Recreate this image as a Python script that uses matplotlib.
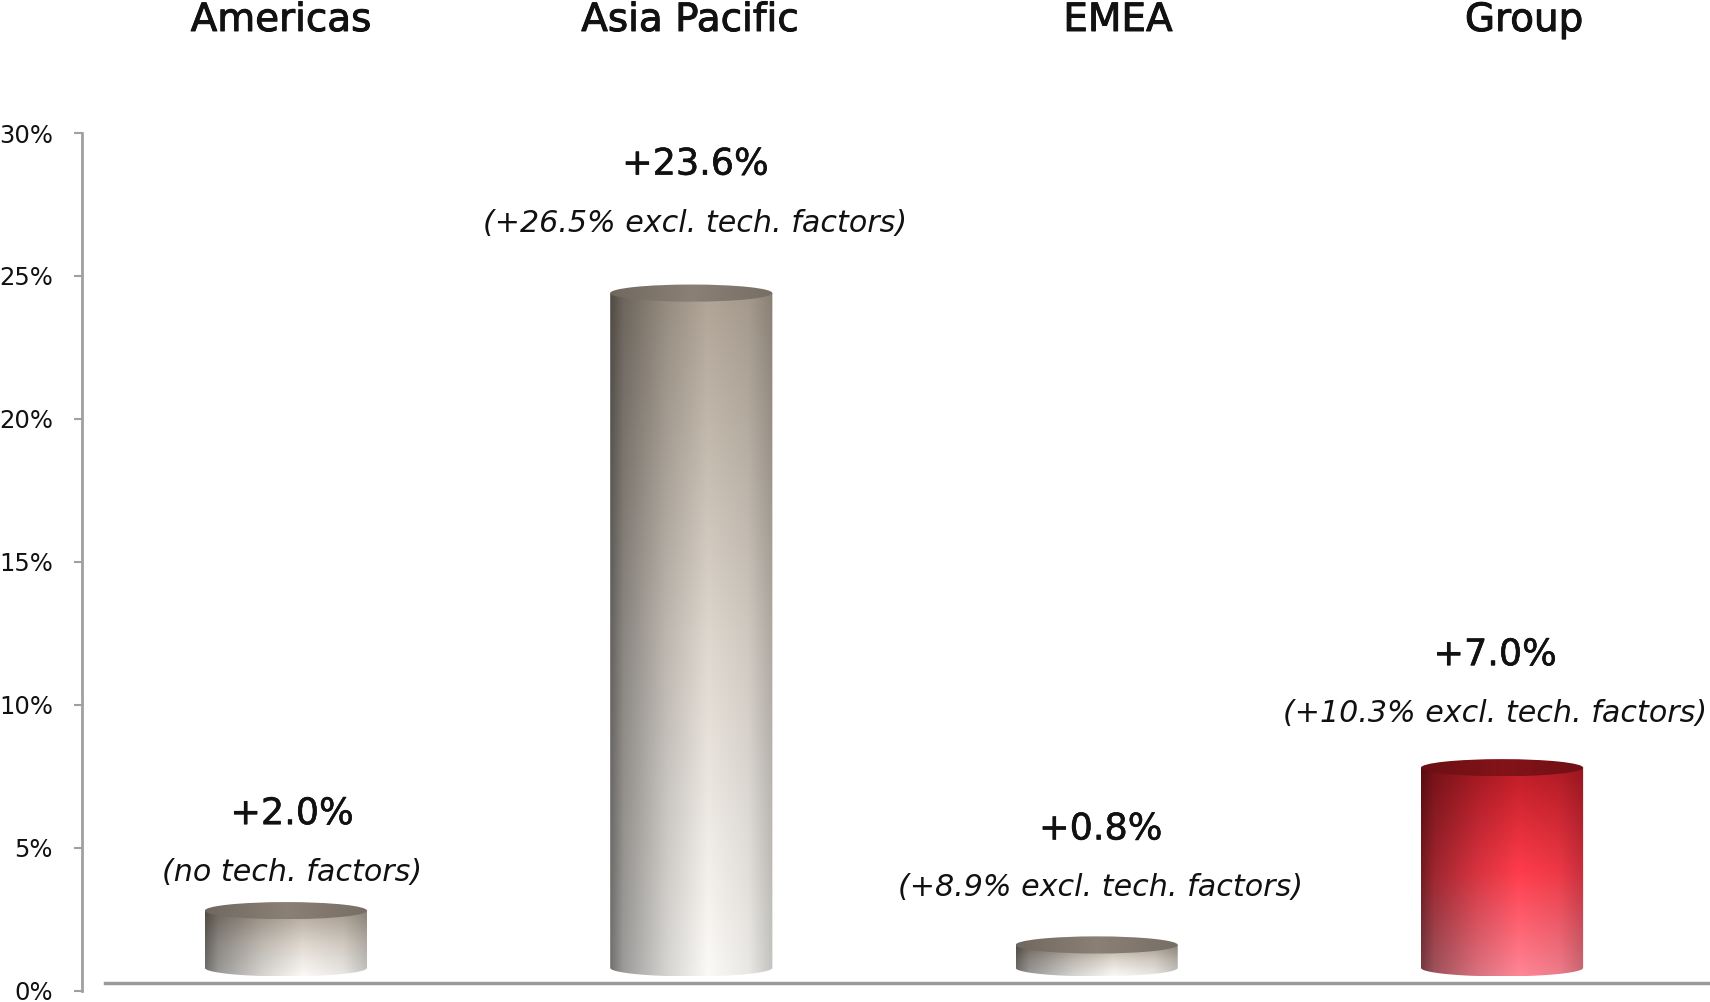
import numpy as np
import matplotlib
matplotlib.use("Agg")
import matplotlib.pyplot as plt
from matplotlib.patches import Ellipse, Polygon
import matplotlib.patheffects as pe

plt.rcParams['font.family'] = ['DejaVu Sans']

# ---- data ----
categories = ["Americas", "Asia Pacific", "EMEA", "Group"]
values = [2.0, 23.6, 0.8, 7.0]
value_labels = ["+2.0%", "+23.6%", "+0.8%", "+7.0%"]
sub_labels = ["(no tech. factors)", "(+26.5% excl. tech. factors)",
              "(+8.9% excl. tech. factors)", "(+10.3% excl. tech. factors)"]
yticks = [0, 5, 10, 15, 20, 25, 30]
ytick_labels = ["0%", "5%", "10%", "15%", "20%", "25%", "30%"]

# ---- layout / style ----
W, H = 1710, 1002
fig = plt.figure(figsize=(W / 100, H / 100), dpi=100)
ax_left, ax_right = 82, 1710
ax_top, ax_bot = 133, 990.7
ax = fig.add_axes([ax_left / W, 1 - ax_bot / H, (ax_right - ax_left) / W, (ax_bot - ax_top) / H])
xlim = (-0.503, 3.513)
ylim = (0, 30)
ax.set_xlim(*xlim)
ax.set_ylim(*ylim)

floor = 0.8          # 3D floor offset of the cylinders
bar_w = 0.40
ell_h = 0.60         # ellipse height in % units
label_gap = [38, 70, 57, 54]   # px from bar top to subtitle centre
label_dx = [6, 4, 4, -7]       # px horizontal nudge of labels
label_sep = 59                 # px between value label and subtitle
is_group = [False, False, False, True]

def shade_img(red, nx=200, ny=200):
    u = np.linspace(0, 1, nx)[None, :]
    v = np.linspace(0, 1, ny)[:, None]   # 0 = top, 1 = bottom
    h = np.interp(u, [0, 0.08, 0.35, 0.6, 0.85, 1.0], [0.45, 0.62, 0.85, 1.0, 0.93, 0.78])
    if red:
        top = np.array([190, 28, 38]) / 255
        mid = np.array([255, 60, 75]) / 255
        bot = np.array([255, 135, 150]) / 255
    else:
        top = np.array([176, 164, 150]) / 255
        mid = np.array([222, 215, 206]) / 255
        bot = np.array([252, 250, 247]) / 255
    c = np.where(v[..., None] < 0.5,
                 top + (mid - top) * (v[..., None] / 0.5),
                 mid + (bot - mid) * ((v[..., None] - 0.5) / 0.5))
    img = c * h[..., None]
    return np.clip(img, 0, 1)

def top_img(red, nx=200):
    u = np.linspace(0, 1, nx)[None, :]
    h = np.interp(u, [0, 0.5, 1.0], [0.85, 1.05, 0.9])
    base = np.array([125, 18, 24]) / 255 if red else np.array([132, 122, 112]) / 255
    return np.clip(base * h[..., None] * np.ones((2, 1, 1)), 0, 1)

for i, (cat, val) in enumerate(zip(categories, values)):
    x0, x1 = i - bar_w / 2, i + bar_w / 2
    yb, yt = floor, floor + val
    th = np.linspace(np.pi, 2 * np.pi, 60)
    arc = np.column_stack([i + bar_w / 2 * np.cos(th), yb + ell_h / 2 * np.sin(th)])
    verts = np.vstack([[[x0, yt]], arc, [[x1, yt]], [[x0, yt]]])
    body = Polygon(verts, closed=True, facecolor='none', edgecolor='none', transform=ax.transData)
    ax.add_patch(body)
    im = ax.imshow(shade_img(is_group[i]), extent=[x0, x1, yb - ell_h / 2, yt],
                   aspect='auto', interpolation='bilinear', zorder=3)
    im.set_clip_path(body)
    ell = Ellipse((i, yt), bar_w, ell_h, facecolor='none', edgecolor='none')
    ax.add_patch(ell)
    im2 = ax.imshow(top_img(is_group[i]), extent=[x0, x1, yt - ell_h / 2, yt + ell_h / 2],
                    aspect='auto', interpolation='bilinear', zorder=4)
    im2.set_clip_path(ell)
    ax.annotate(sub_labels[i], (i, yt), xytext=(label_dx[i], label_gap[i]), textcoords='offset pixels',
                ha='center', va='center', fontsize=21.7, style='italic', color='#111111', zorder=5)
    ax.annotate(value_labels[i], (i, yt), xytext=(label_dx[i], label_gap[i] + label_sep),
                textcoords='offset pixels', ha='center', va='center', fontsize=26.3,
                color='#111111', zorder=5,
                path_effects=[pe.withStroke(linewidth=0.4, foreground='#111111')])

ax.set_xlim(*xlim)
ax.set_ylim(*ylim)

# floor line
ax.axhline(0.27, xmin=(105 - ax_left) / (ax_right - ax_left), xmax=1, color='#999999', lw=2.5, zorder=2)

for s in ['top', 'right', 'bottom']:
    ax.spines[s].set_visible(False)
ax.spines['left'].set_color('#a0a0a0')
ax.spines['left'].set_linewidth(2)
ax.set_xticks([])
ax.set_yticks(yticks)
ax.set_yticklabels(ytick_labels)
ax.tick_params(axis='y', length=5.8, width=1.5, color='#a0a0a0', labelsize=17.5, pad=15,
               labelcolor='#111111')

# category headers
header_x = [281, 690, 1118, 1524]
for cat, hx in zip(categories, header_x):
    fig.text(hx / W, 1 - 20 / H, cat, ha='center', va='center', fontsize=28,
             color='#111111', path_effects=[pe.withStroke(linewidth=0.7, foreground='#111111')])

fig.savefig("out.png", dpi=100)
